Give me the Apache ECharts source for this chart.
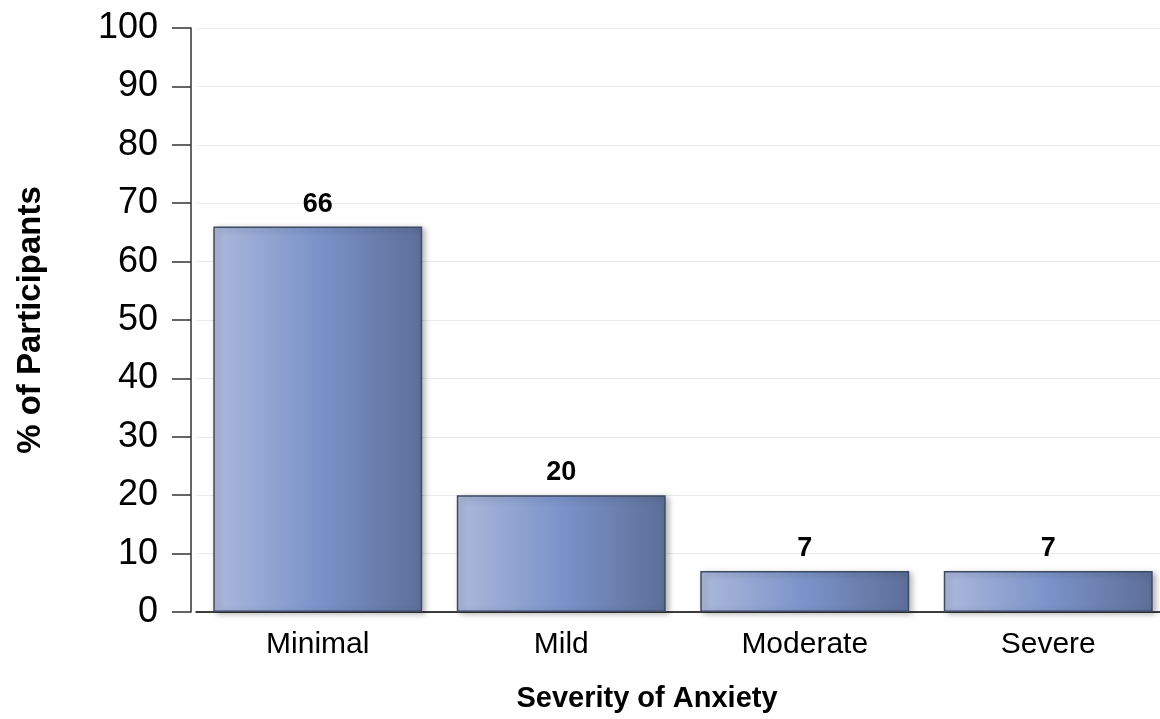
<!DOCTYPE html>
<html>
<head>
<meta charset="utf-8">
<script src="https://cdn.jsdelivr.net/npm/echarts@6/dist/echarts.min.js"></script>
<style>
html,body{margin:0;padding:0;background:#fff;overflow:hidden;width:1160px;height:719px;}
#chart{width:1180px;height:719px;}
</style>
</head>
<body>
<div id="chart"></div>
<script>
const categories = ['Minimal', 'Mild', 'Moderate', 'Severe'];
const values = [66, 20, 7, 7];
const yTicks = [0, 10, 20, 30, 40, 50, 60, 70, 80, 90, 100];
const xTitle = 'Severity of Anxiety';
const yTitle = '% of Participants';

const chart = echarts.init(document.getElementById('chart'));
const font = 'Liberation Sans, Arial, sans-serif';
chart.setOption({
  animation: false,
  grid: { left: 196, right: 10, top: 28, height: 584, containLabel: false },
  xAxis: {
    type: 'category',
    data: categories,
    axisLine: { show: true, lineStyle: { color: '#000', width: 1.5 } },
    axisTick: { show: false },
    axisLabel: { color: '#000', fontSize: 30, fontFamily: font, margin: 18 },
    name: xTitle,
    nameLocation: 'middle',
    nameGap: 72,
    nameTextStyle: { color: '#000', fontSize: 29, fontWeight: 'bold', fontFamily: font, padding: [0, 72, 0, 0] }
  },
  yAxis: {
    type: 'value',
    offset: 5,
    min: yTicks[0],
    max: yTicks[yTicks.length - 1],
    interval: yTicks[1] - yTicks[0],
    axisLine: { show: true, lineStyle: { color: '#333', width: 1.5 } },
    axisTick: { show: true, length: 19, lineStyle: { color: '#333', width: 1.5 } },
    axisLabel: { color: '#000', fontSize: 36, fontFamily: font, margin: 33 },
    splitLine: { show: true, lineStyle: { color: '#ebebeb', width: 1 } },
    name: yTitle,
    nameLocation: 'middle',
    nameGap: 144,
    nameTextStyle: { color: '#000', fontSize: 33, fontWeight: 'bold', fontFamily: font }
  },
  series: [{
    type: 'bar',
    data: values,
    barWidth: '85.8%',
    itemStyle: {
      color: new echarts.graphic.LinearGradient(0, 0, 1, 0, [
        { offset: 0, color: '#abb9db' },
        { offset: 0.5, color: '#7b93c9' },
        { offset: 1, color: '#5d6f98' }
      ]),
      borderColor: '#3f4a64',
      borderWidth: 1.5,
      shadowColor: 'rgba(0,0,0,0.3)',
      shadowBlur: 6,
      shadowOffsetX: 3,
      shadowOffsetY: 2
    },
    label: {
      show: true,
      position: 'top',
      distance: 9,
      color: '#000',
      fontSize: 27,
      fontWeight: 'bold',
      fontFamily: font
    }
  }]
});
</script>
</body>
</html>
